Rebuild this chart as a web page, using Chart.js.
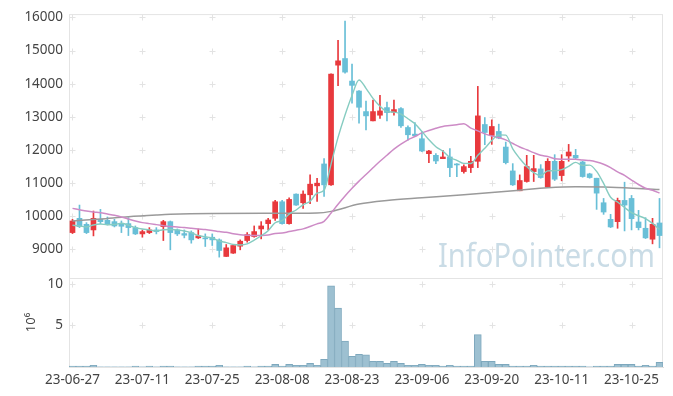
<!DOCTYPE html>
<html>
<head>
<meta charset="utf-8">
<script src="https://cdn.jsdelivr.net/npm/chart.js@4"></script>
<style>
html, body { margin: 0; padding: 0; background: #fff; }
#wrap { position: relative; width: 673px; height: 396px; }
#wrap canvas { position: absolute; left: 0; top: 0; }
</style>
</head>
<body>
<div id="wrap">
  <canvas id="priceChart" width="673" height="396"></canvas>
  <canvas id="volumeChart" width="673" height="396"></canvas>
</div>
<script>
// trading days (YY-MM-DD)
const dates = [
  '23-06-27','23-06-28','23-06-29','23-06-30','23-07-03','23-07-04','23-07-05','23-07-06','23-07-07','23-07-10',
  '23-07-11','23-07-12','23-07-13','23-07-14','23-07-17','23-07-18','23-07-19','23-07-20','23-07-21','23-07-24',
  '23-07-25','23-07-26','23-07-27','23-07-28','23-07-31','23-08-01','23-08-02','23-08-03','23-08-04','23-08-07',
  '23-08-08','23-08-09','23-08-10','23-08-11','23-08-14','23-08-16','23-08-17','23-08-18','23-08-21','23-08-22',
  '23-08-23','23-08-24','23-08-25','23-08-28','23-08-29','23-08-30','23-08-31','23-09-01','23-09-04','23-09-05',
  '23-09-06','23-09-07','23-09-08','23-09-11','23-09-12','23-09-13','23-09-14','23-09-15','23-09-18','23-09-19',
  '23-09-20','23-09-21','23-09-22','23-09-25','23-09-26','23-09-27','23-10-04','23-10-05','23-10-06','23-10-10',
  '23-10-11','23-10-12','23-10-13','23-10-16','23-10-17','23-10-18','23-10-19','23-10-20','23-10-23','23-10-24',
  '23-10-25','23-10-26','23-10-27','23-10-30','23-10-31'
];

const opens = [
  9510, 9940, 9760, 9590, 9910, 9880, 9840, 9780, 9780, 9660,
  9470, 9510, 9590, 9690, 9840, 9590, 9480, 9510, 9350, 9350,
  9370, 9290, 8790, 8890, 9100, 9270, 9390, 9620, 9780, 9940,
  10440, 9780, 10670, 10410, 10650, 10920, 11580, 10950, 14560, 14760,
  14080, 13780, 13160, 12880, 13050, 13280, 13140, 13250, 12680, 12480,
  12340, 11890, 11840, 11740, 11790, 11560, 11350, 11470, 11660, 12770,
  12440, 12560, 12090, 11370, 10770, 11050, 11350, 11430, 10880, 11660,
  11230, 11820, 11840, 11640, 11280, 11150, 10410, 9910, 9840, 10480,
  10540, 9830, 9640, 9310, 9800
];
const highs = [
  9910, 10340, 9810, 10160, 10210, 9980, 9910, 9860, 9960, 9710,
  9590, 9660, 9660, 9880, 9860, 9620, 9590, 9560, 9620, 9470,
  9470, 9320, 9150, 9130, 9290, 9510, 9710, 9840, 9940, 10480,
  10480, 10560, 10680, 10770, 11250, 11150, 11740, 14300, 15310, 15890,
  14590, 13790, 13480, 13510, 13650, 13450, 13510, 13280, 12730, 12830,
  12560, 11990, 11890, 11990, 12040, 11590, 11550, 11810, 13920, 12980,
  12910, 12780, 12240, 11590, 11250, 11840, 11840, 11560, 11740, 11860,
  11860, 12170, 12020, 11660, 11300, 11150, 10540, 10060, 10550, 11030,
  10630, 10180, 9960, 9940, 10540
];
const lows = [
  9480, 9660, 9480, 9410, 9780, 9740, 9680, 9510, 9420, 9450,
  9370, 9480, 9470, 9270, 8990, 9420, 9350, 9190, 9330, 9090,
  9120, 8770, 8790, 8880, 8990, 9220, 9370, 9320, 9590, 9880,
  9760, 9760, 10330, 10240, 10380, 10450, 10600, 10930, 13940, 14320,
  13410, 12810, 12610, 12880, 12950, 12880, 13050, 12680, 12300, 12420,
  11950, 11620, 11590, 11740, 11200, 11200, 11300, 11320, 11470, 12160,
  12170, 12340, 11580, 10930, 10770, 11030, 11050, 11150, 10870, 11080,
  11070, 11660, 11740, 11180, 11150, 10210, 10060, 9660, 9640, 9560,
  9590, 9590, 9330, 9170, 9050
];
const closes = [
  9860, 9690, 9510, 9940, 9840, 9760, 9710, 9700, 9660, 9470,
  9540, 9590, 9540, 9840, 9510, 9470, 9430, 9290, 9410, 9320,
  9290, 8970, 9050, 9120, 9250, 9450, 9540, 9710, 9890, 10440,
  9780, 10510, 10340, 10670, 10970, 11000, 10950, 14290, 14690, 14350,
  13950, 13290, 13030, 13160, 13180, 13130, 13220, 12730, 12460, 12430,
  11970, 11970, 11670, 11790, 11470, 11550, 11500, 11660, 13030, 12530,
  12710, 12360, 11620, 10950, 11080, 11500, 11440, 11170, 11660, 11120,
  11660, 11940, 11760, 11200, 11170, 10700, 10130, 9680, 10480, 10340,
  9930, 9660, 9350, 9760, 9420
];

// moving averages as plotted
const ma5 = [
  9730, 9710, 9680, 9740, 9768, 9748, 9752, 9790, 9734, 9660,
  9616, 9592, 9560, 9596, 9604, 9590, 9558, 9508, 9422, 9384,
  9348, 9256, 9208, 9150, 9136, 9168, 9282, 9414, 9568, 9806,
  9872, 10066, 10192, 10348, 10454, 10698, 10786, 11576, 12380, 13056,
  13646, 14114, 13862, 13556, 13322, 13158, 13144, 13084, 12944, 12794,
  12562, 12312, 12100, 11966, 11774, 11690, 11596, 11594, 11842, 12054,
  12286, 12458, 12450, 12034, 11744, 11502, 11318, 11228, 11370, 11378,
  11410, 11510, 11628, 11536, 11546, 11354, 10992, 10576, 10432, 10266,
  10112, 10018, 9934, 9788, 9604
];
const ma20 = [
  10240, 10200, 10160, 10130, 10110, 10070, 10030, 9980, 9920, 9860,
  9810, 9780, 9750, 9720, 9690, 9680, 9660, 9640, 9620, 9604,
  9576, 9540, 9517, 9476, 9446, 9431, 9422, 9423, 9434, 9483,
  9495, 9541, 9581, 9622, 9695, 9772, 9848, 10098, 10362, 10613,
  10846, 11062, 11261, 11463, 11660, 11844, 12028, 12179, 12307, 12407,
  12516, 12589, 12656, 12712, 12737, 12764, 12792, 12660, 12577, 12486,
  12424, 12378, 12307, 12197, 12092, 12010, 11921, 11843, 11803, 11738,
  11722, 11721, 11725, 11696, 11681, 11638, 11570, 11471, 11343, 11234,
  11095, 10960, 10846, 10786, 10703
];
// long average read at a few days along the line
const ma120Days = ['23-06-27','23-07-03','23-07-07','23-07-13','23-07-17','23-07-25','23-08-04','23-08-16','23-08-18',
  '23-08-24','23-08-30','23-09-06','23-09-14','23-09-20','23-09-26','23-10-06','23-10-13','23-10-20','23-10-31'];
const ma120 = [9860, 9920, 9990, 10040, 10060, 10085, 10090, 10100, 10150,
  10370, 10480, 10560, 10650, 10720, 10790, 10860, 10890, 10880, 10810];

// volume, millions of shares
const volume = [
  0.1, 0.1, 0.1, 0.2, 0.02, 0.02, 0.02, 0.02, 0.02, 0.1,
  0.02, 0.1, 0.02, 0.1, 0.1, 0.02, 0.02, 0.02, 0.1, 0.1,
  0.1, 0.2, 0.02, 0.02, 0.02, 0.1, 0.02, 0.1, 0.1, 0.32,
  0.1, 0.32, 0.2, 0.2, 0.44, 0.2, 0.93, 9.76, 7.07, 3.13,
  1.29, 1.53, 1.45, 0.69, 0.69, 0.44, 0.69, 0.44, 0.2, 0.2,
  0.32, 0.2, 0.2, 0.1, 0.2, 0.1, 0.1, 0.1, 3.9, 0.69,
  0.69, 0.32, 0.32, 0.1, 0.1, 0.1, 0.2, 0.1, 0.1, 0.1,
  0.1, 0.1, 0.1, 0.1, 0.02, 0.1, 0.1, 0.1, 0.32, 0.32,
  0.32, 0.1, 0.2, 0.1, 0.57
];

const priceTicks = [9000, 10000, 11000, 12000, 13000, 14000, 15000, 16000];
const volumeTicks = [5, 10];

const UP = '#e8393d';
const DOWN = '#69bfd7';
const tickFont = { family: '"Noto Sans", sans-serif', size: 13.5 };
const tickColor = '#444';

const candleColor = ctx => closes[ctx.dataIndex] >= opens[ctx.dataIndex] ? UP : DOWN;

// light border round the plot and small crosses where the grid would meet
const frame = {
  id: 'frame',
  beforeDatasetsDraw(chart, args, opts) {
    const { ctx, chartArea: a, scales } = chart;
    ctx.save();
    ctx.strokeStyle = '#e3e3e3';
    ctx.lineWidth = 1;
    scales.y.ticks.forEach(t => {
      const y = Math.round(scales.y.getPixelForValue(t.value)) + 0.5;
      dates.forEach((d, i) => {
        if (i % 10) return;
        const x = Math.round(scales.x.getPixelForValue(i)) + 0.5;
        ctx.beginPath();
        ctx.moveTo(x - 3, y); ctx.lineTo(x + 3, y);
        ctx.moveTo(x, y - 3); ctx.lineTo(x, y + 3);
        ctx.stroke();
      });
    });
    ctx.strokeStyle = '#e4e4e4';
    ctx.strokeRect(a.left + 0.5, a.top + 0.5, a.right - a.left - 1, a.bottom - a.top);
    if (opts.watermark) {
      const txt = 'InfoPointer.com';
      ctx.font = '33px "Noto Sans", sans-serif';
      ctx.fillStyle = 'rgba(150,186,206,0.5)';
      const w = ctx.measureText(txt).width;
      ctx.translate(a.right - 225, a.bottom - 11);
      ctx.scale(217 / w, 1);
      ctx.fillText(txt, 0, 0);
    }
    ctx.restore();
  }
};

new Chart(document.getElementById('priceChart'), {
  type: 'bar',
  data: {
    labels: dates,
    datasets: [
      {
        type: 'line', label: 'MA5', data: ma5, order: 1,
        borderColor: '#86ccc1', borderWidth: 1.4, pointRadius: 0, cubicInterpolationMode: 'monotone'
      },
      {
        type: 'line', label: 'MA20', data: ma20, order: 2,
        borderColor: '#cd8bc6', borderWidth: 1.5, pointRadius: 0, cubicInterpolationMode: 'monotone'
      },
      {
        type: 'line', label: 'MA120', data: ma120Days.map((d, i) => ({ x: d, y: ma120[i] })), order: 3,
        borderColor: '#9a9a9a', borderWidth: 1.5, pointRadius: 0, cubicInterpolationMode: 'monotone'
      },
      {
        label: 'body', data: opens.map((o, i) => [o, closes[i]]), order: 4,
        grouped: false, barThickness: 5, minBarLength: 1,
        backgroundColor: candleColor, borderWidth: 0
      },
      {
        label: 'wick', data: lows.map((l, i) => [l, highs[i]]), order: 5,
        grouped: false, barThickness: 1,
        backgroundColor: candleColor, borderWidth: 0
      }
    ]
  },
  options: {
    responsive: false,
    animation: false,
    layout: { padding: { top: 10, right: 10, bottom: 118, left: 0 } },
    plugins: { legend: { display: false }, tooltip: { enabled: false }, frame: { watermark: true } },
    scales: {
      x: { display: false, offset: true, grid: { display: false } },
      y: {
        min: 8140, max: 16100,
        afterBuildTicks: s => { s.ticks = priceTicks.map(v => ({ value: v })); },
        afterFit: s => { s.width = 69; },
        grid: { display: false, drawTicks: false },
        border: { display: false },
        ticks: { padding: 6, font: tickFont, color: tickColor, callback: v => String(v) }
      }
    }
  },
  plugins: [frame]
});

new Chart(document.getElementById('volumeChart'), {
  type: 'bar',
  data: {
    labels: dates,
    datasets: [{
      label: 'volume', data: volume,
      backgroundColor: '#9dc0d1', borderColor: '#7ea8bd', borderWidth: 1,
      barPercentage: 1, categoryPercentage: 1
    }]
  },
  options: {
    responsive: false,
    animation: false,
    layout: { padding: { top: 278, right: 10, bottom: 0, left: 0 } },
    plugins: { legend: { display: false }, tooltip: { enabled: false }, frame: { watermark: false } },
    scales: {
      x: {
        offset: true,
        grid: { display: false, drawTicks: false },
        border: { color: '#dcdcdc' },
        afterBuildTicks: s => { s.ticks = s.ticks.filter(t => t.value % 10 === 0); },
        afterFit: s => { s.height = 29; },
        ticks: { autoSkip: false, maxRotation: 0, padding: 5, font: tickFont, color: tickColor }
      },
      y: {
        min: 0, max: 10.7,
        afterBuildTicks: s => { s.ticks = volumeTicks.map(v => ({ value: v })); },
        afterFit: s => { s.width = 69; },
        grid: { display: false, drawTicks: false },
        border: { display: false },
        ticks: { padding: 6, font: tickFont, color: tickColor, callback: v => String(v) },
        title: {
          display: true, text: '10⁶', color: tickColor,
          font: { family: '"Noto Sans", sans-serif', size: 13 },
          padding: { top: 23, bottom: 0 }
        }
      }
    }
  },
  plugins: [frame]
});
</script>
</body>
</html>
